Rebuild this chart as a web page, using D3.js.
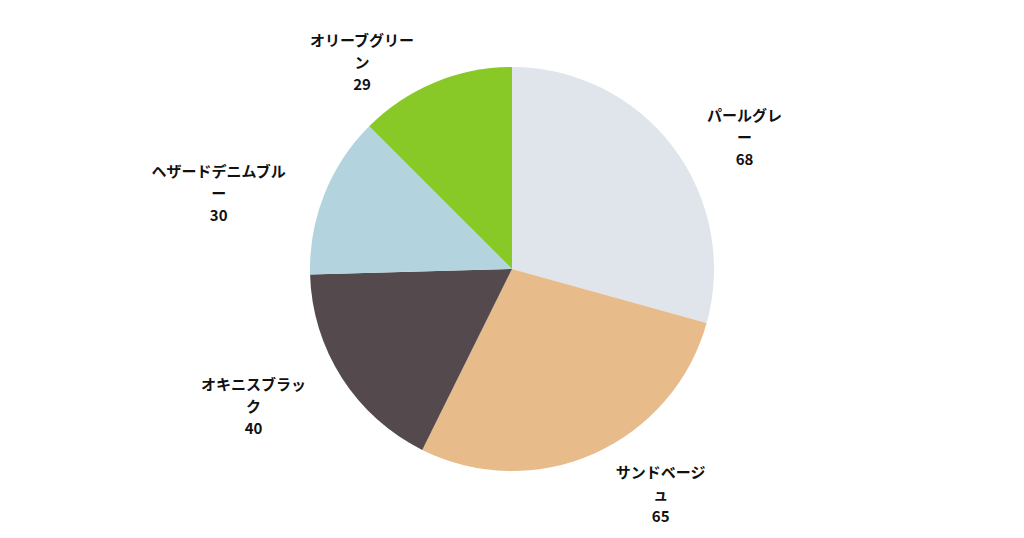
<!DOCTYPE html>
<html>
<head>
<meta charset="utf-8">
<script src="https://cdn.jsdelivr.net/npm/d3@7"></script>
<style>
  body { margin: 0; background: #fff; }
  text { font-family: "Noto Sans CJK JP", "Noto Sans", sans-serif; font-weight: bold; fill: #111; }
</style>
</head>
<body>
<svg></svg>
<script>
// SVG
var width = 1024;
var height = 538;
var radius = 202;
var cx = 512, cy = 269;

// Data
var names = ["パールグレー", "サンドベージュ", "オキニスブラック", "ヘザードデニムブルー", "オリーブグリーン"];
var values = [68, 65, 40, 30, 29];
var colors = ["#dfe5ea", "#e8bb8a", "#54494c", "#b3d4df", "#88c928"];
// label lines as wrapped in the chart
var labelLines = [
    ["パールグレ", "ー"],
    ["サンドベージ", "ュ"],
    ["オキニスブラッ", "ク"],
    ["ヘザードデニムブル", "ー"],
    ["オリーブグリー", "ン"]
];

var data = names.map((n, i) => ({ name: n, value: values[i], color: colors[i], lines: labelLines[i] }));

var svg = d3.select("svg")
    .attr("width", width)
    .attr("height", height);

var g = svg.append("g")
    .attr("transform", "translate(" + cx + "," + cy + ")");

var pie = d3.pie()
    .sort(null)
    .value(d => d.value);

var arc = d3.arc()
    .innerRadius(0)
    .outerRadius(radius);

var arcs = pie(data);

g.selectAll("path")
    .data(arcs)
    .enter()
    .append("path")
    .attr("d", arc)
    .attr("fill", d => d.data.color);

// labels outside the pie
var labelR = radius + 33;
var lineH = 22;

arcs.forEach(function(d) {
    var mid = (d.startAngle + d.endAngle) / 2;
    var sx = Math.sin(mid), sy = -Math.cos(mid);
    var lines = d.data.lines.concat([String(d.data.value)]);

    var lg = g.append("g");
    var t = lg.append("text")
        .attr("text-anchor", "middle")
        .attr("font-size", "15px");
    lines.forEach(function(l, i) {
        t.append("tspan")
            .attr("x", 0)
            .attr("y", (i - (lines.length - 1) / 2) * lineH)
            .attr("dominant-baseline", "central")
            .text(l);
    });
    var w = t.node().getBBox().width;
    var x = sx * labelR + Math.sign(sx) * (w / 2 + 8);
    var y = sy * labelR + 10;
    lg.attr("transform", "translate(" + x + "," + y + ")");
});
</script>
</body>
</html>
